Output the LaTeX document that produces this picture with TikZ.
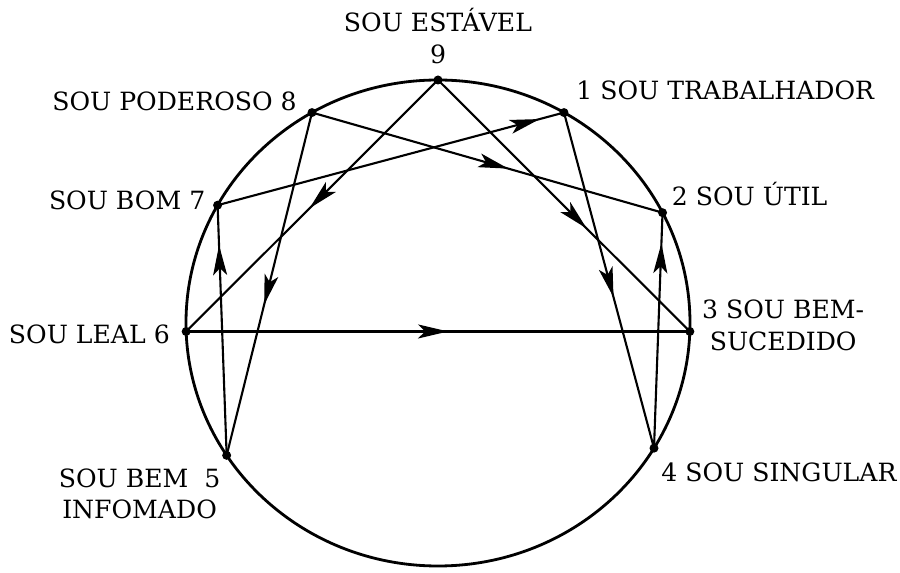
\documentclass[tikz,border=0pt]{standalone}
\usepackage{fontspec}
\setmainfont{DejaVu Serif}
\usetikzlibrary{arrows.meta,positioning,decorations.markings}

\begin{document}
\begin{tikzpicture}[
  lbl/.style={font=\fontsize{14.3}{18}\selectfont,inner sep=0pt,align=center},
  link/.style={line width=1.2pt},
  tipat/.style={postaction={decorate,decoration={markings,
    mark=at position #1 with {\arrow{Stealth[length=6mm,width=2.8mm,inset=1.4mm]}}}}}]
\useasboundingbox (-87.6mm,-50mm) rectangle (92.4mm,64.6mm);
\draw[line width=1.6pt] (0,0) ellipse [x radius=50.4mm,y radius=48.6mm];
\foreach \n/\a in {9/90,1/60,2/27,3/-2,4/-31,5/213,6/182,7/151,8/120}
  \coordinate (p\n) at (\a:50.4mm and 48.6mm);
% triangle
\draw[link,tipat=0.51] (p9) -- (p6);
\draw[link,tipat=0.59] (p9) -- (p3);
\draw[link,tipat=0.52] (p6) -- (p3);
% hexad
\draw[link,tipat=0.55] (p1) -- (p4);
\draw[link,tipat=0.87] (p4) -- (p2);
\draw[link,tipat=0.56] (p8) -- (p2);
\draw[link,tipat=0.56] (p8) -- (p5);
\draw[link,tipat=0.84] (p5) -- (p7);
\draw[link,tipat=0.93] (p7) -- (p1);
\foreach \n in {1,...,9} \fill (p\n) circle (0.9mm);
% labels
\node[lbl,above=3.2mm of p9] (l9) {SOU ESTÁVEL\\9};
\node[lbl,right=2.4mm of p1,yshift=4.5mm] (l1) {1 SOU TRABALHADOR};
\node[lbl,right=1.8mm of p2,yshift=3.8mm] (l2) {2 SOU ÚTIL};
\node[lbl,right=2.4mm of p3,yshift=1.2mm] (l3) {3 SOU BEM-\\SUCEDIDO};
\node[lbl,below right=2.8mm and 1.4mm of p4] (l4) {4 SOU SINGULAR};
\node[lbl,below left=2.6mm and 1.2mm of p5] (l5) {SOU BEM\ \ 5\\INFOMADO};
\node[lbl,left=3.2mm of p6,yshift=-0.6mm] (l6) {SOU LEAL 6};
\node[lbl,left=2.4mm of p7,yshift=0.9mm] (l7) {SOU BOM 7};
\node[lbl,left=3mm of p8,yshift=2.3mm] (l8) {SOU PODEROSO 8};
\end{tikzpicture}
\end{document}
